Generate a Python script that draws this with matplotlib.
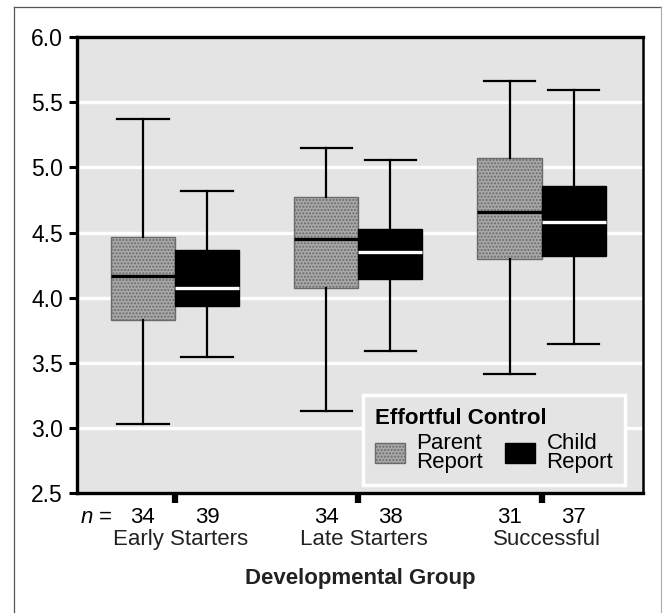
import matplotlib
matplotlib.use('Agg')
from matplotlib import pyplot as plt
from matplotlib.patches import Patch
from matplotlib.lines import Line2D

plt.rcParams['font.family'] = ['Liberation Sans', 'DejaVu Sans']
plt.rcParams['mathtext.fontset'] = 'custom'
plt.rcParams['mathtext.it'] = 'Liberation Sans:italic'
plt.rcParams['mathtext.rm'] = 'Liberation Sans'

gruppi = ['Early Starters', 'Late Starters', 'Successful']
n_genitori = [34, 34, 31]
n_figli = [39, 38, 37]

# parent report: whisker high, q3, median, q1, whisker low
gen_alto = [5.37, 5.15, 5.66]
gen_q3 = [4.47, 4.77, 5.07]
gen_med = [4.17, 4.45, 4.655]
gen_q1 = [3.83, 4.075, 4.295]
gen_basso = [3.03, 3.13, 3.42]

# child report
fig_alto = [4.82, 5.06, 5.595]
fig_q3 = [4.37, 4.53, 4.855]
fig_med = [4.075, 4.35, 4.585]
fig_q1 = [3.935, 4.145, 4.32]
fig_basso = [3.545, 3.595, 3.65]

posizioni = [1, 2, 3]
larghezza = 0.35

fig = plt.figure(figsize=(6.66, 6.13), dpi=100)
ax = fig.add_axes([0.1156, 0.195, 0.8506, 0.7445])
ax.set_facecolor('#e4e4e4')

def statistiche(alto, q3, med, q1, basso):
    return [dict(whishi=a, q3=b, med=c, q1=d, whislo=e, fliers=[])
            for a, b, c, d, e in zip(alto, q3, med, q1, basso)]

stat_gen = statistiche(gen_alto, gen_q3, gen_med, gen_q1, gen_basso)
stat_fig = statistiche(fig_alto, fig_q3, fig_med, fig_q1, fig_basso)

ax.bxp(stat_gen, positions=[p - larghezza / 2 for p in posizioni],
       widths=larghezza, capwidths=0.28, showfliers=False, patch_artist=True,
       boxprops=dict(facecolor='#a9a9a9', edgecolor='#6a6a6a', hatch='.....', linewidth=1),
       whiskerprops=dict(color='black', linewidth=1.6),
       capprops=dict(color='black', linewidth=1.6),
       medianprops=dict(color='black', linewidth=2.4), zorder=3)
ax.bxp(stat_fig, positions=[p + larghezza / 2 for p in posizioni],
       widths=larghezza, capwidths=0.28, showfliers=False, patch_artist=True,
       boxprops=dict(facecolor='black', edgecolor='black', linewidth=1),
       whiskerprops=dict(color='black', linewidth=1.6),
       capprops=dict(color='black', linewidth=1.6),
       medianprops=dict(color='white', linewidth=2.4), zorder=3)

ax.set_xlim(0.465, 3.556)
ax.set_ylim(2.5, 6.0)
ax.set_yticks([2.5, 3.0, 3.5, 4.0, 4.5, 5.0, 5.5, 6.0])
ax.set_yticklabels(['%.1f' % v for v in ax.get_yticks()], fontsize=16.5)
ax.set_xticks(posizioni)
ax.set_xticklabels([])
ax.tick_params(axis='y', length=6, width=2.2, pad=4)
ax.tick_params(axis='x', length=7, width=4.5)

for y in [3.0, 3.5, 4.0, 4.5, 5.0, 5.5]:
    ax.axhline(y, color='white', linewidth=2.4, zorder=1)

for lato in ['left', 'bottom', 'top']:
    ax.spines[lato].set_linewidth(2.4)
ax.spines['right'].set_linewidth(1.8)

for p, ng, nf in zip(posizioni, n_genitori, n_figli):
    ax.annotate(str(ng), xy=(p - larghezza / 2, 0), xycoords=('data', 'axes fraction'),
                xytext=(0, -17), textcoords='offset points', ha='center', va='center', fontsize=16)
    ax.annotate(str(nf), xy=(p + larghezza / 2, 0), xycoords=('data', 'axes fraction'),
                xytext=(0, -17), textcoords='offset points', ha='center', va='center', fontsize=16)

for p, g in zip(posizioni, gruppi):
    ax.annotate(g, xy=(p, 0), xycoords=('data', 'axes fraction'),
                xytext=(4, -33), textcoords='offset points', ha='center', va='center',
                fontsize=16, color='#222222')

ax.annotate('$n$ =', xy=(0.062, 0), xycoords='axes fraction',
            xytext=(0, -17), textcoords='offset points', ha='right', va='center', fontsize=16)
ax.annotate('Developmental Group', xy=(0.5, 0), xycoords='axes fraction',
            xytext=(0, -61), textcoords='offset points', ha='center', va='center',
            fontsize=16, fontweight='bold', color='#222222')

maniglie = [Patch(facecolor='#a9a9a9', edgecolor='#6a6a6a', hatch='.....', label='Parent\nReport'),
            Patch(facecolor='black', edgecolor='black', label='Child\nReport')]
leg = ax.legend(handles=maniglie, ncol=2, loc='lower right', bbox_to_anchor=(0.968, 0.019),
                borderaxespad=0, fontsize=16, title='Effortful Control',
                title_fontproperties={'weight': 'bold', 'size': 16},
                alignment='left', frameon=True, fancybox=False, facecolor='#e4e4e4',
                edgecolor='white', framealpha=1, handlelength=1.35, handleheight=1.0,
                handletextpad=0.5, columnspacing=1.0, borderpad=0.55, labelspacing=0.2)
leg.get_frame().set_linewidth(2.5)
for t in leg.get_texts():
    t.set_linespacing(0.85)
leg.set_zorder(5)

# cornice esterna della figura
fig.add_artist(Line2D([13.5 / 666, 13.5 / 666], [0, 1 - 7 / 613], color='#555555', linewidth=0.9))
fig.add_artist(Line2D([13.5 / 666, 661 / 666], [1 - 7 / 613, 1 - 7 / 613], color='#555555', linewidth=0.9))
fig.add_artist(Line2D([661 / 666, 661 / 666], [0, 1 - 7 / 613], color='#aaaaaa', linewidth=0.8))

fig.savefig('out.png', dpi=100)
